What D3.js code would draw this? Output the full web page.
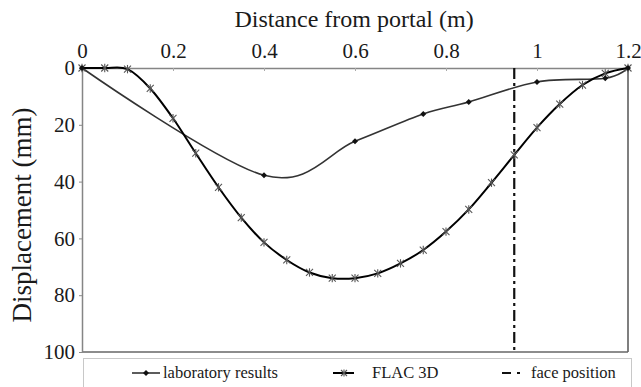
<!DOCTYPE html>
<html><head><meta charset="utf-8">
<script src="https://cdn.jsdelivr.net/npm/d3@7"></script>
<style>body{margin:0;background:#fff}svg{display:block}</style>
</head><body><svg id="c" width="641" height="387"></svg>
<script>
const xTicks = [0, 0.2, 0.4, 0.6, 0.8, 1, 1.2];
const yTicks = [0, 20, 40, 60, 80, 100];
const labX = [0, 0.4, 0.6, 0.75, 0.85, 1.0, 1.15, 1.2];
const labY = [0, 37.8, 25.8, 16.2, 12.0, 4.9, 3.6, 0];
const flacX = [0,0.05,0.1,0.15,0.2,0.25,0.3,0.35,0.4,0.45,0.5,0.55,0.6,0.65,0.7,0.75,0.8,0.85,0.9,0.95,1.0,1.05,1.1,1.15,1.2];
const flacY = [0,0,0.4,7.2,17.7,30,42,52.7,61.4,67.6,72,74,74,72.3,68.8,64.1,57.6,49.8,40.4,30.6,21,12.7,6,1.9,0];
const facePos = 0.95;
const legendLabels = ["laboratory results", "FLAC 3D", "face position"];

const FONT = "'Liberation Serif', 'Times New Roman', 'DejaVu Serif', serif";
const svg = d3.select("#c");
const x = d3.scaleLinear().domain([0, 1.2]).range([82, 628]);
const y = d3.scaleLinear().domain([0, 100]).range([68, 352]);
const axisCol = "#858585";

// frame
svg.append("line").attr("x1", x(1.2)).attr("x2", x(1.2)).attr("y1", y(0)).attr("y2", y(100)).attr("stroke", "#555").attr("stroke-width", 1.5);
svg.append("line").attr("x1", x(0)).attr("x2", x(1.2)).attr("y1", y(100)).attr("y2", y(100)).attr("stroke", "#666").attr("stroke-width", 1.5);

// x axis (top)
const gx = svg.append("g").attr("transform", `translate(0,${y(0)})`)
  .call(d3.axisTop(x).tickValues(xTicks).tickFormat(d3.format("~g")).tickSizeInner(-3).tickSizeOuter(0).tickPadding(10));
gx.attr("font-family", null);
gx.select(".domain").attr("stroke", axisCol).attr("stroke-width", 1.5);
gx.selectAll(".tick line").attr("stroke", "#aaa");
gx.selectAll("text").style("font-family", FONT).style("font-size", "21px").attr("fill", "#1a1a1a");

// y axis
const gy = svg.append("g").attr("transform", `translate(${x(0)},0)`)
  .call(d3.axisLeft(y).tickValues(yTicks).tickSizeInner(3).tickSizeOuter(0).tickPadding(4));
gy.attr("font-family", null);
gy.select(".domain").attr("stroke", axisCol).attr("stroke-width", 1.5);
gy.selectAll(".tick line").attr("stroke", "#888");
gy.selectAll("text").style("font-family", FONT).style("font-size", "21px").attr("fill", "#1a1a1a");

// titles
svg.append("text").attr("x", 354).attr("y", 27).attr("text-anchor", "middle")
  .style("font-family", FONT).style("font-size", "24px").attr("fill", "#1a1a1a").text("Distance from portal (m)");
svg.append("text").attr("transform", "translate(31,215) rotate(-90)").attr("text-anchor", "middle")
  .style("font-family", FONT).style("font-size", "27px").attr("fill", "#1a1a1a").text("Displacement (mm)");

// face position
svg.append("line").attr("x1", x(facePos)).attr("x2", x(facePos)).attr("y1", y(0)).attr("y2", y(100))
  .attr("stroke", "#111").attr("stroke-width", 2.2).attr("stroke-dasharray", "11,4,3,4");

const line = d3.line().x(d => x(d[0])).y(d => y(d[1])).curve(d3.curveCatmullRom.alpha(0));
const labData = labX.map((v, i) => [v, labY[i]]);
const flacData = flacX.map((v, i) => [v, flacY[i]]);

svg.append("path").attr("d", line(labData)).attr("fill", "none").attr("stroke", "#333").attr("stroke-width", 1.6);
svg.append("path").attr("d", line(flacData)).attr("fill", "none").attr("stroke", "#000").attr("stroke-width", 2);

function star(g, cx, cy, r) {
  const s = g.append("g").attr("transform", `translate(${cx},${cy})`).attr("stroke", "#555").attr("stroke-width", 1.1);
  s.append("line").attr("x1", -r).attr("y1", -r).attr("x2", r).attr("y2", r);
  s.append("line").attr("x1", -r).attr("y1", r).attr("x2", r).attr("y2", -r);
  s.append("line").attr("x1", 0).attr("y1", -r * 1.2).attr("x2", 0).attr("y2", r * 1.2);
}
function diamond(g, cx, cy, r) {
  g.append("path").attr("d", `M${cx},${cy - r}L${cx + r},${cy}L${cx},${cy + r}L${cx - r},${cy}Z`).attr("fill", "#111");
}
flacData.forEach(d => star(svg, x(d[0]), y(d[1]), 3.5));
labData.forEach(d => diamond(svg, x(d[0]), y(d[1]), 3));

// legend
svg.append("rect").attr("x", 83.5).attr("y", 358.5).attr("width", 548).attr("height", 40).attr("fill", "none").attr("stroke", "#c8c8c8");
const ly = 373;
const legText = (tx, s) => svg.append("text").attr("x", tx).attr("y", ly + 5)
  .style("font-family", FONT).style("font-size", "16.5px").attr("fill", "#1a1a1a").text(s);
svg.append("line").attr("x1", 132).attr("x2", 160).attr("y1", ly).attr("y2", ly).attr("stroke", "#333").attr("stroke-width", 1.6);
diamond(svg, 146, ly, 3);
legText(163, legendLabels[0]);
svg.append("line").attr("x1", 333).attr("x2", 354).attr("y1", ly).attr("y2", ly).attr("stroke", "#000").attr("stroke-width", 2);
star(svg, 344, ly, 3);
legText(372, legendLabels[1]);
svg.append("line").attr("x1", 502).attr("x2", 522).attr("y1", ly).attr("y2", ly).attr("stroke", "#111").attr("stroke-width", 2.2).attr("stroke-dasharray", "9,6,3,20");
legText(531, legendLabels[2]);
</script></body></html>
